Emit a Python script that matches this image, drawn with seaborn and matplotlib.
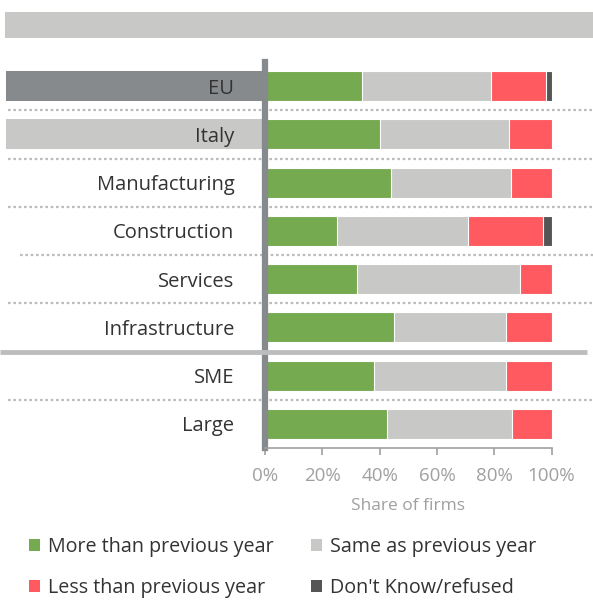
import matplotlib
matplotlib.use("Agg")
import matplotlib.pyplot as plt
import matplotlib.transforms as mtransforms
from matplotlib.patches import Rectangle, Patch
import pandas as pd
import seaborn as sns

# data (share of firms, %)
categories = ["EU", "Italy", "Manufacturing", "Construction", "Services",
              "Infrastructure", "SME", "Large"]
more = [34, 40, 44, 25, 32, 45, 38, 42.5]
same = [45, 45, 42, 46, 57, 39, 46, 43.7]
less = [19, 15, 14, 26, 11, 16, 16, 13.8]
dont_know = [2, 0, 0, 3, 0, 0, 0, 0]
series_names = ["More than previous year", "Same as previous year",
                "Less than previous year", "Don't Know/refused"]
colors = ["#75aa50", "#c8c8c6", "#ff5a5f", "#555555"]
xticks = [0, 20, 40, 60, 80, 100]

sns.set_style("white")
plt.rcParams["font.family"] = ["Open Sans", "DejaVu Sans"]

df = pd.DataFrame({"category": categories, "more": more, "same": same,
                   "less": less, "dk": dont_know})
# cumulative ends for stacking
df["c1"] = df["more"]
df["c2"] = df["c1"] + df["same"]
df["c3"] = df["c2"] + df["less"]
df["c4"] = df["c3"] + df["dk"]

W, H = 593, 601
fig = plt.figure(figsize=(W / 100, H / 100), dpi=100)
ax = fig.add_axes([265 / W, 1 - 448 / H, 286.5 / W, 386 / H])

# draw widest layer first, then overwrite
for col, c in zip(["c4", "c3", "c2", "c1"], colors[::-1]):
    sns.barplot(data=df, x=col, y="category", orient="h", color=c,
                width=0.62, edgecolor="white", linewidth=0.8, ax=ax,
                saturation=1)

ax.set_xlim(0, 100)
ax.set_ylim(7.5, -0.5)
ax.set_xticks(xticks)
ax.set_xticklabels([f"{t}%" for t in xticks])
ax.set_xlabel("Share of firms", color="#a0a0a0", fontsize=12.5, labelpad=9)
ax.set_ylabel("")
ax.tick_params(axis="x", colors="#a0a0a0", labelsize=13.5, length=5,
               width=1.2, direction="out", pad=9)
ax.tick_params(axis="y", length=0, pad=22, labelsize=14.5, labelcolor="#333333")
ax.xaxis.set_ticks_position("bottom")

for s in ["top", "right"]:
    ax.spines[s].set_visible(False)
ax.spines["left"].set_color("#878a8d")
ax.spines["left"].set_linewidth(4.5)
ax.spines["bottom"].set_color("#a0a0a0")
ax.spines["bottom"].set_linewidth(1.2)

# label boxes behind EU and Italy
tr_box = mtransforms.blended_transform_factory(ax.transAxes, ax.transData)
for i, fc in [(0, "#878a8d"), (1, "#c8c8c6")]:
    ax.add_patch(Rectangle((-259 / 286.5, i - 0.31), 256 / 286.5, 0.62,
                           transform=tr_box, facecolor=fc, edgecolor="none",
                           clip_on=False, zorder=0))

# row separators
tr_sep = mtransforms.blended_transform_factory(fig.transFigure, ax.transData)
sep_y = [0.5, 1.5, 2.5, 3.5, 4.5, 6.5]
sep_x0 = [8, 8, 8, 20, 8, 8]
for y, x0 in zip(sep_y, sep_x0):
    ax.plot([x0 / W, 1], [y, y], transform=tr_sep, color="#bdbdbd",
            linewidth=1.6, linestyle=(0, (1.2, 1.2)), clip_on=False, zorder=0)
ax.plot([0, 587 / W], [5.5, 5.5], transform=tr_sep, color="#bdbdbd",
        linewidth=3.5, clip_on=False, zorder=5, solid_capstyle="butt")

# header band
fig.patches.append(Rectangle((5 / W, 1 - 38 / H), 588 / W, 26 / H,
                             transform=fig.transFigure, facecolor="#c8c8c6",
                             edgecolor="none"))

handles = [Patch(facecolor=c, edgecolor="none") for c in colors]
order = [0, 2, 1, 3]
fig.legend([handles[i] for i in order], [series_names[i] for i in order],
           loc="upper left", bbox_to_anchor=(29 / W, 1 - 537 / H), ncol=2,
           frameon=False, fontsize=14.2, labelcolor="#333333",
           borderpad=0, borderaxespad=0,
           handlelength=0.55, handleheight=0.55, handletextpad=0.4,
           columnspacing=1.9, labelspacing=1.05)

fig.savefig("out.png", dpi=100)
